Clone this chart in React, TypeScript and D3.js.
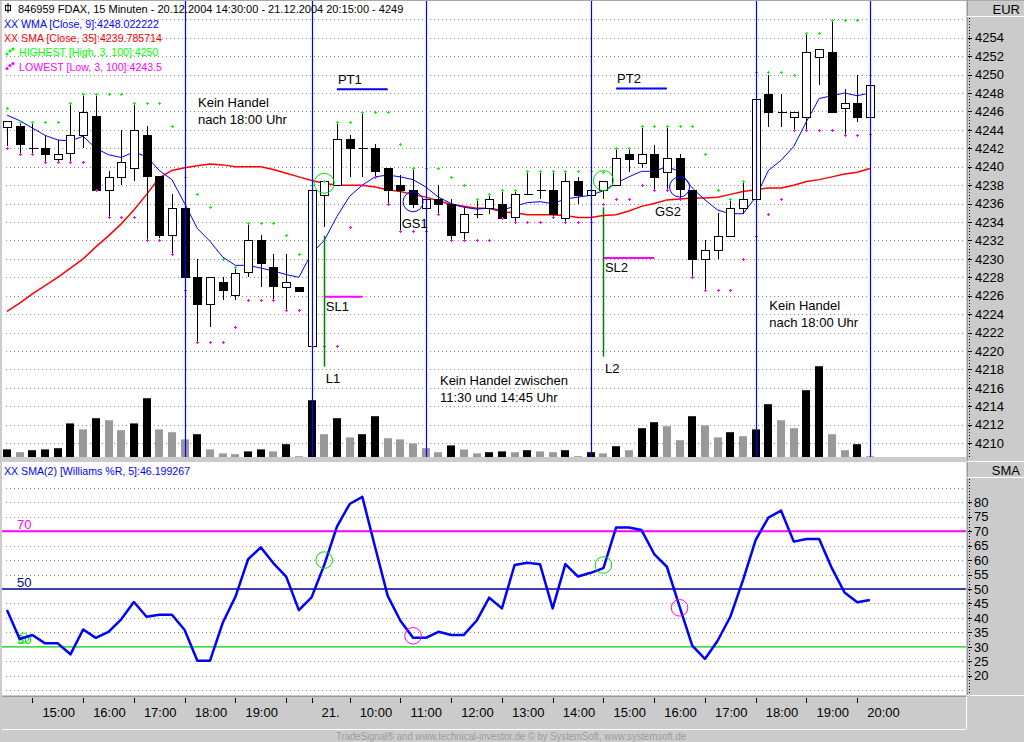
import * as d3 from "d3"

// FDAX 15 min, 20.12.2004 14:30 .. 21.12.2004 20:15 (69 bars)
const opens = [4244.4, 4244.4, 4242.0, 4242.0, 4240.9, 4241.4, 4243.4, 4245.5, 4237.5, 4238.9, 4239.9, 4243.4, 4239.0, 4232.6, 4235.5, 4228.0, 4225.1, 4227.5, 4226.1, 4228.5, 4232.0, 4229.1, 4227.0, 4227.0,
  4220.6, 4237.0, 4238.0, 4243.0, 4242.0, 4242.0, 4239.9, 4238.0, 4237.5, 4235.5, 4236.5, 4236.0, 4233.0, 4234.9, 4235.5, 4236.0, 4234.5, 4237.0, 4237.5, 4237.5, 4234.5, 4238.5, 4237.0, 4237.5,
  4238.0, 4241.4, 4240.4, 4241.4, 4239.4, 4240.9, 4237.5, 4230.0, 4231.0, 4232.5, 4235.5, 4236.5, 4247.9, 4245.9, 4245.4, 4245.4, 4251.9, 4252.4, 4246.4, 4246.9, 4245.4]
const highs = [4245.0, 4244.9, 4244.9, 4243.3, 4242.9, 4247.0, 4247.9, 4247.9, 4239.5, 4244.0, 4247.0, 4244.4, 4239.0, 4237.0, 4235.5, 4230.0, 4228.0, 4228.0, 4229.1, 4233.9, 4232.6, 4230.5, 4230.5, 4227.0,
  4238.0, 4238.5, 4244.9, 4243.4, 4245.9, 4242.5, 4239.9, 4239.1, 4239.9, 4236.5, 4238.0, 4236.5, 4235.5, 4236.5, 4237.0, 4237.5, 4237.5, 4239.5, 4239.5, 4239.5, 4239.5, 4238.9, 4237.5, 4238.5,
  4242.0, 4242.0, 4244.4, 4242.4, 4244.4, 4241.4, 4237.5, 4232.0, 4235.0, 4236.5, 4238.4, 4250.3, 4249.9, 4247.9, 4245.9, 4254.5, 4252.8, 4255.9, 4248.4, 4249.9, 4248.9]
const lows = [4242.2, 4241.5, 4241.4, 4240.5, 4240.5, 4240.5, 4242.0, 4237.5, 4234.5, 4238.0, 4238.4, 4232.0, 4232.3, 4230.5, 4226.6, 4221.0, 4222.6, 4225.5, 4225.5, 4228.0, 4227.0, 4225.5, 4224.5, 4226.6,
  4220.6, 4233.5, 4238.0, 4238.9, 4238.9, 4238.9, 4236.0, 4233.0, 4235.5, 4235.5, 4234.9, 4232.0, 4232.0, 4234.4, 4234.9, 4234.4, 4234.0, 4237.0, 4236.5, 4234.5, 4234.0, 4236.0, 4237.0, 4236.5,
  4238.0, 4239.4, 4239.9, 4237.5, 4237.5, 4236.5, 4228.0, 4226.6, 4230.0, 4232.5, 4234.9, 4236.5, 4244.3, 4244.3, 4244.0, 4244.0, 4248.9, 4245.9, 4243.4, 4244.9, 4245.4]
const closes = [4245.0, 4242.4, 4242.0, 4241.4, 4241.4, 4243.4, 4245.9, 4237.5, 4238.9, 4240.5, 4244.0, 4238.9, 4232.6, 4235.5, 4228.0, 4225.1, 4228.0, 4226.6, 4228.5, 4232.0, 4229.5, 4227.0, 4227.5, 4226.6,
  4237.5, 4238.5, 4243.0, 4242.0, 4242.0, 4239.5, 4237.5, 4237.5, 4236.0, 4236.5, 4236.0, 4232.6, 4234.9, 4234.9, 4236.5, 4234.5, 4237.0, 4237.0, 4237.5, 4234.9, 4238.5, 4237.0, 4237.5, 4238.5,
  4240.9, 4240.9, 4241.4, 4238.9, 4240.9, 4237.5, 4230.0, 4231.0, 4232.5, 4235.5, 4236.5, 4247.4, 4245.9, 4245.9, 4245.9, 4252.4, 4252.8, 4245.9, 4246.9, 4245.4, 4248.9]
const volumes = [190, 120, 170, 190, 220, 840, 690, 970, 920, 670, 840, 1470, 690, 620, 440, 570, 190, 90, 70, 140, 190, 140, 320, 20,
  1420, 570, 970, 490, 570, 1020, 470, 440, 340, 220, 120, 290, 190, 90, 120, 140, 120, 170, 140, 120, 170, 20, 120, 90,
  270, 170, 720, 870, 770, 420, 1020, 790, 490, 620, 520, 690, 1320, 920, 720, 1670, 2270, 570, 170, 320, 20]
const volumeDark = [1, 0, 1, 1, 1, 1, 0, 1, 0, 0, 1, 1, 0, 0, 0, 1, 0, 0, 0, 1, 1, 0, 1, 0,
  1, 0, 1, 0, 1, 1, 0, 0, 0, 0, 0, 1, 0, 0, 1, 1, 0, 1, 0, 0, 1, 0, 1, 0,
  1, 0, 1, 1, 0, 0, 1, 0, 0, 1, 0, 1, 1, 0, 0, 1, 1, 0, 0, 1, 0]
const wma9 = [4245.6, 4245.0, 4244.2, 4243.4, 4242.9, 4242.8, 4243.3, 4242.0, 4241.3, 4241.0, 4241.6, 4241.1, 4239.6, 4238.6, 4236.0, 4233.3, 4231.9, 4230.2, 4229.3, 4229.3, 4229.0, 4228.7, 4228.3, 4228.0,
  4230.6, 4232.0, 4234.6, 4236.8, 4238.0, 4238.9, 4239.1, 4238.9, 4238.6, 4237.8, 4236.7, 4236.0, 4235.6, 4235.4, 4235.5, 4235.3, 4235.7, 4236.1, 4236.2, 4236.0, 4236.5, 4236.7, 4236.9, 4237.4,
  4238.2, 4238.9, 4239.5, 4239.5, 4240.0, 4239.5, 4237.7, 4236.4, 4235.3, 4234.9, 4234.9, 4236.7, 4239.6, 4240.7, 4242.2, 4244.9, 4247.4, 4247.7, 4248.0, 4247.7, 4248.0]
const sma35 = [4224.3, 4225.2, 4226.2, 4227.1, 4228.0, 4229.0, 4230.0, 4231.3, 4232.5, 4233.8, 4235.3, 4237.0, 4238.8, 4239.6, 4239.9, 4240.1, 4240.3, 4240.2, 4240.0, 4240.0, 4240.0, 4239.7, 4239.3, 4238.9,
  4238.5, 4238.2, 4238.0, 4238.0, 4238.0, 4237.8, 4237.5, 4237.3, 4237.0, 4236.7, 4236.3, 4235.9, 4235.7, 4235.5, 4235.5, 4235.1, 4235.0, 4234.8, 4234.8, 4234.8, 4234.7, 4234.5, 4234.5, 4234.7,
  4234.8, 4235.2, 4235.7, 4236.0, 4236.4, 4236.5, 4236.6, 4236.6, 4236.7, 4237.0, 4237.3, 4237.5, 4237.7, 4237.7, 4238.0, 4238.4, 4238.6, 4238.9, 4239.2, 4239.4, 4239.8]
const highest3 = [4246.4, 4244.9, 4244.9, 4244.9, 4244.9, 4246.9, 4247.9, 4247.9, 4247.9, 4247.9, 4246.9, 4246.9, 4246.9, 4244.4, 4238.9, 4237.0, 4235.6, 4230.0, 4229.1, 4233.9, 4233.9, 4233.9, 4232.6, 4230.5,
  4238.0, 4238.5, 4244.9, 4244.9, 4245.9, 4245.9, 4245.9, 4242.5, 4239.9, 4239.9, 4239.9, 4238.9, 4238.0, 4236.5, 4237.0, 4237.5, 4237.5, 4239.5, 4239.5, 4239.5, 4239.5, 4239.5, 4239.5, 4239.4,
  4242.0, 4242.0, 4244.4, 4244.4, 4244.4, 4244.4, 4244.4, 4241.4, 4237.5, 4236.5, 4238.4, 4250.3, 4250.3, 4250.3, 4249.9, 4254.5, 4254.5, 4255.9, 4255.9, 4255.9, 4250.0]
const lowest3 = [4242.0, 4241.4, 4241.4, 4240.5, 4240.5, 4240.5, 4240.5, 4237.5, 4234.5, 4234.5, 4234.5, 4232.0, 4232.0, 4230.5, 4226.6, 4221.0, 4221.0, 4221.0, 4222.6, 4225.5, 4225.5, 4225.5, 4224.5, 4224.5,
  4220.6, 4220.6, 4220.6, 4233.5, 4238.0, 4238.9, 4236.0, 4233.0, 4233.0, 4233.0, 4234.9, 4232.0, 4232.0, 4232.0, 4232.0, 4234.4, 4234.0, 4234.0, 4234.0, 4234.5, 4234.0, 4234.0, 4234.0, 4236.0,
  4236.5, 4236.5, 4238.0, 4237.5, 4237.5, 4236.5, 4228.0, 4226.6, 4226.6, 4226.6, 4230.0, 4232.5, 4234.9, 4236.5, 4244.0, 4244.0, 4244.0, 4244.0, 4243.4, 4243.4, 4243.5]
const williams = [42.7, 32.7, 34.1, 31.2, 31.2, 27.4, 36.0, 33.1, 35.2, 39.5, 45.5, 40.4, 41.1, 41.1, 35.8, 25.2, 25.2, 38.3, 47.3, 60.3, 64.4, 58.9, 54.3, 42.7,
  47.1, 58.3, 71.6, 79.4, 81.9, 64.6, 47.6, 39.0, 33.1, 33.1, 35.2, 34.1, 34.1, 39.0, 47.0, 43.3, 58.3, 59.1, 58.6, 43.3, 58.6, 54.3, 55.6, 57.2,
  71.3, 71.3, 70.4, 62.1, 57.7, 43.9, 30.4, 25.8, 32.1, 40.4, 53.1, 67.0, 74.7, 77.1, 66.4, 67.3, 67.3, 57.2, 48.8, 45.4, 46.2]

const priceTicks = d3.range(4210, 4255, 2)
const williamsTicks = d3.range(20, 81, 5)
const hourTicks = [2, 6, 10, 14, 18, 22, 24, 27, 31, 35, 39, 43, 47, 51, 55, 59, 63, 67]
const hourLabels = ["15:00", "16:00", "17:00", "18:00", "19:00", "", "21.", "10:00", "11:00", "12:00", "13:00", "14:00", "15:00", "16:00", "17:00", "18:00", "19:00", "20:00"]
const sessionMarks = [14, 24, 33, 46, 59, 68]
const levels = [{ v: 70, color: "#ff00ff", w: 2 }, { v: 50, color: "#000090", w: 1.4 }, { v: 30, color: "#00d000", w: 1.2 }]

const notes = [
  { at: 15.05, price: 4246.45, lines: ["Kein Handel", "nach 18:00 Uhr"] },
  { at: 34.12, price: 4216.3, lines: ["Kein Handel zwischen", "11:30 und 14:45 Uhr"] },
  { at: 60.07, price: 4224.5, lines: ["Kein Handel", "nach 18:00 Uhr"] },
]
const targets = [{ from: 26, to: 30, price: 4248.4, label: "PT1" }, { from: 48, to: 52, price: 4248.5, label: "PT2" }]
const stops = [{ from: 25, to: 28, price: 4225.9, label: "SL1" }, { from: 47, to: 51, price: 4230.1, label: "SL2" }]
const entries = [{ at: 25, top: 4232.5, bottom: 4218.3, label: "L1" }, { at: 47, top: 4235.6, bottom: 4219.4, label: "L2" }]
const exits = [{ at: 31.1, price: 4233.4, label: "GS1" }, { at: 51.06, price: 4234.6, label: "GS2" }]
const priceRings = [{ at: 25, price: 4238.2, color: "#00e000" }, { at: 32, price: 4236.2, color: "#0000ff" }, { at: 47, price: 4238.5, color: "#00e000" }, { at: 53, price: 4237.8, color: "#0000ff" }]
const williamsRings = [{ at: 25, v: 60.0, color: "#00e000" }, { at: 32, v: 33.8, color: "#ff00ff" }, { at: 47, v: 58.3, color: "#00e000" }, { at: 53, v: 43.5, color: "#ff00ff" }]

const sans = "'Liberation Sans', Arial, sans-serif"
const narrow = "'Liberation Sans Narrow', 'Liberation Sans', Arial, sans-serif"

export default function App() {
  const W = 1024, H = 742
  const plotL = 2, plotR = 966
  const upBot = 457, loTop = 462, loBot = 695
  const grey = "#cbcbcb"

  const x = d3.scaleLinear([0, 68], [7, 7 + 68 * 12.69])
  const y = d3.scaleLinear([4210, 4254], [443.2, 37.7])
  const yVol = d3.scaleLinear([0, 2500], [upBot, upBot - 100])
  const yW = d3.scaleLinear([20, 80], [675.7, 502.3])
  const px = (i: number) => Math.round(x(i)) + 0.5
  const py = (p: number) => Math.round(y(p)) + 0.5
  const pw = (v: number) => Math.round(yW(v)) + 0.5

  const wmaPath = d3.line<number>().x((_, i) => x(i)).y(v => y(v))(wma9)
  const smaPath = d3.line<number>().x((_, i) => x(i)).y(v => y(v))(sma35)
  const wrPath = d3.line<number>().x((_, i) => x(i)).y(v => yW(v))(williams)

  const plus = (cx: number, cy: number) => `M${cx - 1.5},${cy}H${cx + 1.5}M${cx},${cy - 1.5}V${cy + 1.5}`

  return (
    <svg width={W} height={H} style={{ position: "fixed", left: 0, top: 0 }} fontFamily={sans}>
      <rect width={W} height={H} fill={grey} />
      {/* panels */}
      <rect x={plotL} y={1} width={plotR - plotL} height={upBot - 1} fill="#fff" />
      <rect x={plotL} y={loTop} width={plotR - plotL} height={loBot - loTop} fill="#fff" />
      <line x1={0} x2={W} y1={0.5} y2={0.5} stroke="#a8a8a8" />
      <line x1={967.5} x2={967.5} y1={0} y2={loBot} stroke="#9a9a9a" />
      <line x1={967} x2={W} y1={16.5} y2={16.5} stroke="#fff" />
      <line x1={967} x2={W} y1={477.5} y2={477.5} stroke="#fff" />
      <line x1={967} x2={W} y1={loTop - 0.5} y2={loTop - 0.5} stroke="#fff" />
      <line x1={967} x2={W} y1={loBot + 0.5} y2={loBot + 0.5} stroke="#fff" />
      <text x={1020} y={14} textAnchor="end" fontFamily={narrow} fontSize={13}>EUR</text>
      <text x={1020} y={475} textAnchor="end" fontFamily={narrow} fontSize={13}>SMA</text>

      {/* grid */}
      {priceTicks.concat([4256]).map(p => (
        <line key={p} x1={plotL + 4} x2={plotR} y1={py(p)} y2={py(p)} stroke="#8a8a8a" strokeDasharray="1 3" />
      ))}
      {d3.range(15, 90, 5).filter(v => !levels.some(l => l.v === v)).map(v => (
        <line key={v} x1={plotL + 4} x2={plotR} y1={pw(v)} y2={pw(v)} stroke="#8a8a8a" strokeDasharray="1 3" />
      ))}

      {/* volume */}
      {volumes.map((v, i) => (
        <rect key={i} x={Math.round(x(i)) - 4} y={yVol(v)} width={8} height={upBot - yVol(v)} fill={volumeDark[i] ? "#000" : "#999"} />
      ))}

      {/* moving averages */}
      <path d={smaPath ?? ""} fill="none" stroke="#ff0000" strokeWidth={1.5} />
      <path d={wmaPath ?? ""} fill="none" stroke="#0000ff" strokeWidth={1} />

      {/* candles */}
      {opens.map((o, i) => {
        const c = closes[i]
        const cx = px(i)
        const top = y(Math.max(o, c)), bot = y(Math.min(o, c))
        return (
          <g key={i} shapeRendering="crispEdges">
            <line x1={cx} x2={cx} y1={y(highs[i])} y2={y(lows[i])} stroke="#000" />
            {Math.abs(c - o) < 0.05
              ? <line x1={cx - 4} x2={cx + 5} y1={Math.round(top) + 0.5} y2={Math.round(top) + 0.5} stroke="#000" />
              : <rect x={cx - 4} y={Math.round(top) + 0.5} width={8} height={Math.max(1, Math.round(bot - top))} fill={c > o ? "#fff" : "#000"} stroke="#000" />}
          </g>
        )
      })}

      {/* highest / lowest dots */}
      {highest3.map((v, i) => <path key={"h" + i} d={plus(px(i), py(v))} stroke="#00ff00" />)}
      {lowest3.map((v, i) => <path key={"l" + i} d={plus(px(i), py(v))} stroke="#ff00ff" />)}

      {/* session lines */}
      {sessionMarks.map(i => (
        <line key={i} x1={px(i)} x2={px(i)} y1={1} y2={upBot} stroke="#0000ff" strokeWidth={1.2} />
      ))}

      {/* trade annotations */}
      {priceRings.map((r, k) => <circle key={k} cx={x(r.at)} cy={y(r.price)} r={10} fill="none" stroke={r.color} />)}
      {targets.map(t => (
        <g key={t.label}>
          <line x1={x(t.from)} x2={x(t.to)} y1={y(t.price)} y2={y(t.price)} stroke="#0000ff" strokeWidth={2} />
          <text x={x(t.from) + 1} y={y(t.price) - 5} fontFamily={narrow} fontSize={13}>{t.label}</text>
        </g>
      ))}
      {stops.map(s => (
        <g key={s.label}>
          <line x1={x(s.from)} x2={x(s.to)} y1={y(s.price)} y2={y(s.price)} stroke="#ff00ff" strokeWidth={2} />
          <text x={x(s.from) + 1.5} y={y(s.price) + 14} fontFamily={narrow} fontSize={13}>{s.label}</text>
        </g>
      ))}
      {entries.map(e => (
        <g key={e.label}>
          <line x1={px(e.at)} x2={px(e.at)} y1={y(e.top)} y2={y(e.bottom)} stroke="#008000" strokeWidth={1.5} />
          <text x={x(e.at) + 1.5} y={y(e.bottom) + 16} fontFamily={narrow} fontSize={13}>{e.label}</text>
        </g>
      ))}
      {exits.map(e => (
        <text key={e.label} x={x(e.at)} y={y(e.price)} fontFamily={narrow} fontSize={13}>{e.label}</text>
      ))}
      {notes.map((n, k) => (
        <text key={k} x={x(n.at)} y={y(n.price)} fontSize={13}>
          {n.lines.map((t, j) => <tspan key={j} x={x(n.at)} dy={j === 0 ? 0 : 17}>{t}</tspan>)}
        </text>
      ))}

      {/* price axis */}
      <line x1={969.5} x2={969.5} y1={18} y2={upBot} stroke="#000" strokeDasharray="1 2" />
      {priceTicks.map(p => (
        <g key={p}>
          <line x1={968} x2={972} y1={py(p)} y2={py(p)} stroke="#000" />
          <text x={975} y={y(p) + 4.7} fontFamily={narrow} fontSize={13}>{p}</text>
        </g>
      ))}

      {/* legend */}
      <rect x={5.5} y={5.5} width={5} height={5} fill="none" stroke="#000" />
      <line x1={8} x2={8} y1={3} y2={13} stroke="#000" />
      <text x={18} y={12.7} fontSize={11}>846959  FDAX, 15 Minuten - 20.12.2004 14:30:00 - 21.12.2004 20:15:00 - 4249</text>
      <text x={4} y={28.3} fontSize={10.6} fill="#0000ff">XX WMA [Close, 9]:4248.022222</text>
      <text x={4} y={42.3} fontSize={10.6} fill="#ff0000">XX SMA [Close, 35]:4239.785714</text>
      {[[7, 54], [10, 51], [13, 49]].map(([a, b], k) => <circle key={"gi" + k} cx={a} cy={b} r={1.6} fill="#00ff00" />)}
      <text x={19} y={56} fontSize={10.6} fill="#00ff00">HIGHEST [High, 3, 100]:4250</text>
      {[[7, 68.5], [10, 65.5], [13, 63.5]].map(([a, b], k) => <circle key={"li" + k} cx={a} cy={b} r={1.6} fill="#ff00ff" />)}
      <text x={19} y={70.7} fontSize={10.6} fill="#ff00ff">LOWEST [Low, 3, 100]:4243.5</text>

      {/* williams panel */}
      {levels.map(l => (
        <g key={l.v}>
          <line x1={plotL} x2={plotR} y1={yW(l.v)} y2={yW(l.v)} stroke={l.color} strokeWidth={l.w} />
          <text x={17} y={yW(l.v) - 2.5} fontFamily={narrow} fontSize={13} fill={l.color}>{l.v}</text>
        </g>
      ))}
      <circle cx={x(1) + 4} cy={yW(33)} r={5} fill="none" stroke="#00e000" />
      <path d={wrPath ?? ""} fill="none" stroke="#0000ff" strokeWidth={2.5} strokeLinejoin="round" />
      {williamsRings.map((r, k) => <circle key={k} cx={x(r.at)} cy={yW(r.v)} r={8.3} fill="none" stroke={r.color} />)}
      <text x={4} y={475} fontSize={10.6} fill="#0000ff">XX SMA(2) [Williams %R, 5]:46.199267</text>
      <line x1={969.5} x2={969.5} y1={479} y2={loBot} stroke="#000" strokeDasharray="1 2" />
      {williamsTicks.map(v => (
        <g key={v}>
          <line x1={968} x2={972} y1={pw(v)} y2={pw(v)} stroke="#000" />
          <text x={974} y={yW(v) + 4.7} fontFamily={narrow} fontSize={13}>{v}</text>
        </g>
      ))}

      {/* time axis */}
      <line x1={plotL} x2={plotR} y1={696.5} y2={696.5} stroke="#9a9a9a" />
      <line x1={plotR + 0.5} x2={plotR + 0.5} y1={697} y2={729} stroke="#fff" />
      <line x1={plotL} x2={plotR} y1={729.5} y2={729.5} stroke="#fff" />
      {hourTicks.map((t, k) => (
        <g key={k}>
          <line x1={px(t)} x2={px(t)} y1={698} y2={703} stroke="#000" />
          <text x={x(t) + 10} y={717.3} fontFamily={narrow} fontSize={13}>{hourLabels[k]}</text>
        </g>
      ))}
      <text x={336} y={739.5} fontSize={10} fill="#9c9c9c" textLength={350} lengthAdjust="spacingAndGlyphs">TradeSignal® and www.technical-investor.de © by SystemSoft, www.systemsoft.de</text>
    </svg>
  )
}
